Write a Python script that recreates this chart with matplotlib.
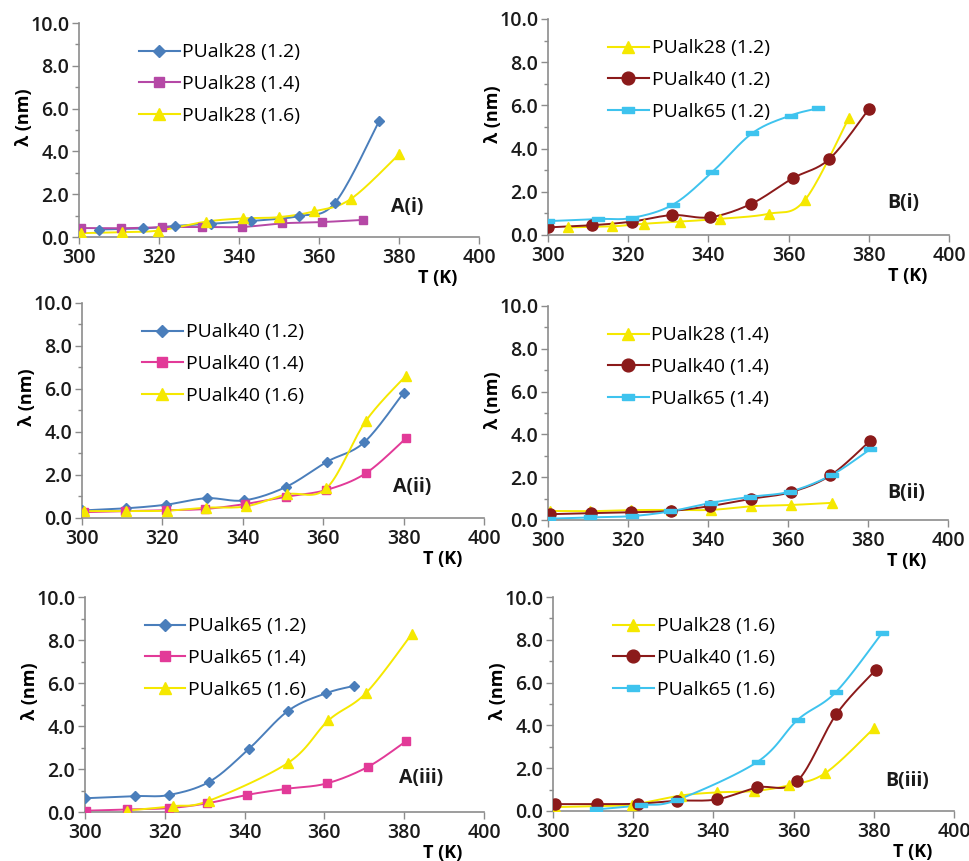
import numpy as np
import matplotlib
matplotlib.use('Agg')
import matplotlib.pyplot as plt

plt.rcParams['font.family'] = ['Open Sans', 'DejaVu Sans']

# data: T (K) and lambda (nm)
t_28_12 = [305, 316, 324, 333, 343, 355, 364, 375]
l_28_12 = [0.35, 0.40, 0.52, 0.62, 0.75, 0.98, 1.60, 5.40]
t_28_14 = [300.4, 310.6, 320.7, 330.7, 340.8, 350.8, 360.8, 371]
l_28_14 = [0.42, 0.41, 0.46, 0.47, 0.47, 0.64, 0.70, 0.80]
t_28_16 = [300.4, 310.7, 319.8, 331.8, 341, 350, 358.8, 367.9, 380]
l_28_16 = [0.18, 0.23, 0.30, 0.72, 0.87, 0.93, 1.20, 1.77, 3.86]

t_40_12 = [300, 311, 321, 331, 340.4, 350.7, 361, 370.2, 380]
l_40_12 = [0.35, 0.45, 0.62, 0.92, 0.82, 1.44, 2.62, 3.52, 5.82]
t_40_14 = [300.4, 310.8, 320.8, 330.7, 340.6, 350.8, 360.7, 370.6, 380.6]
l_40_14 = [0.27, 0.32, 0.36, 0.42, 0.65, 0.99, 1.30, 2.08, 3.71]
t_40_16 = [300.5, 310.9, 321.2, 330.9, 340.8, 350.9, 360.8, 370.6, 380.5]
l_40_16 = [0.32, 0.32, 0.34, 0.48, 0.54, 1.10, 1.38, 4.51, 6.60]

t_65_12 = [300, 312.5, 321, 331.2, 341, 351, 360.5, 367.3]
l_65_12 = [0.64, 0.74, 0.79, 1.41, 2.92, 4.72, 5.53, 5.86]
t_65_14 = [300.2, 310.5, 321, 330.5, 340.7, 350.5, 360.6, 371, 380.5]
l_65_14 = [0.06, 0.12, 0.18, 0.40, 0.80, 1.08, 1.33, 2.11, 3.30]
t_65_16 = [310.6, 322, 331, 351, 361, 370.5, 382]
l_65_16 = [0.07, 0.27, 0.52, 2.30, 4.26, 5.55, 8.30]

# styles
blue = dict(color='#4A7EBB', marker='D', ms=5.5)
purple = dict(color='#B548A6', marker='s', ms=6)
pink = dict(color='#E23A98', marker='s', ms=6)
yellow = dict(color='#F5E800', marker='^', ms=7.5)
brown = dict(color='#8B1A1A', marker='o', ms=8)
bar = [(-1, -0.4), (1, -0.4), (1, 0.4), (-1, 0.4), (-1, -0.4)]
cyan = dict(color='#3EC3EE', marker=bar, ms=8)


def smooth(x, y, n=20):
    # Excel-like smoothed line (Catmull-Rom in screen-ish coordinates)
    u = (np.asarray(x, float) - 300) * 4.0
    v = np.asarray(y, float) * 21.4
    P = np.column_stack([u, v])
    P = np.vstack([P[0], P, P[-1]])
    out = []
    for i in range(1, len(P) - 2):
        p0, p1, p2, p3 = P[i - 1], P[i], P[i + 1], P[i + 2]
        c1 = p1 + (p2 - p0) / 6
        c2 = p2 - (p3 - p1) / 6
        s = np.linspace(0, 1, n)[:, None]
        seg = ((1 - s) ** 3) * p1 + 3 * ((1 - s) ** 2) * s * c1 + 3 * (1 - s) * s ** 2 * c2 + s ** 3 * p2
        out.append(seg)
    out = np.vstack(out)
    return out[:, 0] / 4.0 + 300, out[:, 1] / 21.4


panels = [
    ([0.0815, 0.7247, 0.4128, 0.2485], 'A(i)', (378, 1.4),
     [(t_28_12, l_28_12, 'PUalk28 (1.2)', blue),
      (t_28_14, l_28_14, 'PUalk28 (1.4)', purple),
      (t_28_16, l_28_16, 'PUalk28 (1.6)', yellow)]),
    ([0.5655, 0.7271, 0.4138, 0.2509], 'B(i)', (384.5, 1.5),
     [(t_28_12, l_28_12, 'PUalk28 (1.2)', yellow),
      (t_40_12, l_40_12, 'PUalk40 (1.2)', brown),
      (t_65_12, l_65_12, 'PUalk65 (1.2)', cyan)]),
    ([0.0846, 0.3984, 0.4149, 0.2497], 'A(ii)', (377.4, 1.45),
     [(t_40_12, l_40_12, 'PUalk40 (1.2)', blue),
      (t_40_14, l_40_14, 'PUalk40 (1.4)', pink),
      (t_40_16, l_40_16, 'PUalk40 (1.6)', yellow)]),
    ([0.5655, 0.3961, 0.4128, 0.2485], 'B(ii)', (384.7, 1.26),
     [(t_28_14, l_28_14, 'PUalk28 (1.4)', yellow),
      (t_40_14, l_40_14, 'PUalk40 (1.4)', brown),
      (t_65_14, l_65_14, 'PUalk65 (1.4)', cyan)]),
    ([0.0877, 0.0569, 0.4118, 0.2497], 'A(iii)', (378.8, 1.6),
     [(t_65_12, l_65_12, 'PUalk65 (1.2)', blue),
      (t_65_14, l_65_14, 'PUalk65 (1.4)', pink),
      (t_65_16, l_65_16, 'PUalk65 (1.6)', yellow)]),
    ([0.5707, 0.0581, 0.4139, 0.2485], 'B(iii)', (382.8, 1.4),
     [(t_28_16, l_28_16, 'PUalk28 (1.6)', yellow),
      (t_40_16, l_40_16, 'PUalk40 (1.6)', brown),
      (t_65_16, l_65_16, 'PUalk65 (1.6)', cyan)]),
]

fig = plt.figure(figsize=(9.69, 8.61), dpi=100)

for rect, tag, tagpos, series in panels:
    ax = fig.add_axes(rect)
    for t, l, name, st in series:
        xs, ys = smooth(t, l)
        ax.plot(xs, ys, color=st['color'], lw=1.4, zorder=2)
        ax.plot(t, l, ls='none', marker=st['marker'], ms=st['ms'],
                color=st['color'], mec=st['color'], zorder=3)
        # legend proxy
        ax.plot([], [], color=st['color'], lw=1.5, marker=st['marker'],
                ms=st['ms'] * 1.15, label=name)
    ax.set_xlim(300, 400)
    ax.set_ylim(0, 10)
    ax.set_xticks(np.arange(300, 401, 20))
    ax.set_yticks(np.arange(0, 10.1, 2))
    ax.set_yticks(np.arange(0, 10.1, 1), minor=True)
    ax.set_yticklabels([f'{v:.1f}' for v in np.arange(0, 10.1, 2)])
    for s in ['top', 'right']:
        ax.spines[s].set_visible(False)
    for s in ['left', 'bottom']:
        ax.spines[s].set_color('#8C8C8C')
        ax.spines[s].set_linewidth(1.2)
    ax.tick_params(which='both', direction='out', color='#8C8C8C',
                   labelsize=14, labelcolor='#1A1A1A', width=1)
    ax.tick_params(axis='x', length=5, pad=3)
    ax.tick_params(axis='y', which='major', length=5, pad=2)
    ax.tick_params(axis='y', which='minor', length=3)
    for lab in ax.get_xticklabels() + ax.get_yticklabels():
        lab.set_fontweight('semibold')
    ax.set_xlabel('T (K)', loc='right', fontsize=13, fontweight='bold')
    ax.xaxis.set_label_coords(0.945, -0.15)
    ax.set_ylabel('λ (nm)', fontsize=13, fontweight='bold')
    ax.yaxis.set_label_coords(-0.115, 0.56)
    ax.text(tagpos[0], tagpos[1], tag, fontsize=14, fontweight='bold',
            ha='left', va='center', color='#1A1A1A')
    ax.legend(loc='upper left', bbox_to_anchor=(0.125, 0.95), frameon=False,
              fontsize=14, handlelength=2.1, labelspacing=0.7,
              handletextpad=0.15, borderpad=0)

fig.savefig('out.png', dpi=100)
